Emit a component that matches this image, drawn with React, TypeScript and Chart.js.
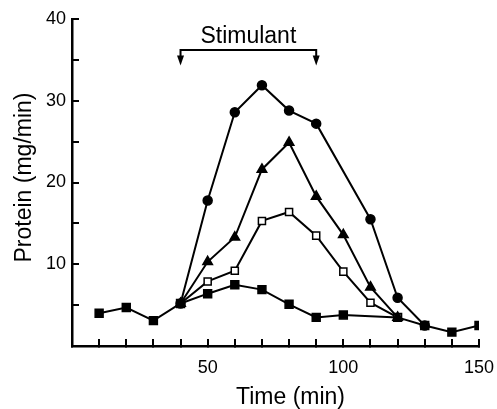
import React, { useEffect, useRef } from 'react';
import { Chart, registerables } from 'chart.js';

Chart.register(...registerables);

// ---- data ----
const controlTime = [10, 20, 30, 40, 50, 60, 70, 80, 90, 100, 120, 130, 140, 150];
const controlProtein = [4.0, 4.7, 3.1, 5.2, 6.4, 7.5, 6.9, 5.1, 3.5, 3.8, 3.5, 2.5, 1.7, 2.5];

const openSquareTime = [40, 50, 60, 70, 80, 90, 100, 110, 120];
const openSquareProtein = [5.2, 7.9, 9.2, 15.3, 16.4, 13.5, 9.1, 5.3, 3.5];

const triangleTime = [40, 50, 60, 70, 80, 90, 100, 110, 120];
const triangleProtein = [5.2, 10.3, 13.3, 21.6, 24.9, 18.3, 13.6, 7.2, 3.5];

const circleTime = [40, 50, 60, 70, 80, 90, 110, 120, 130];
const circleProtein = [5.2, 17.8, 28.6, 31.9, 28.8, 27.2, 15.5, 5.9, 2.5];

const xTickLabels = [50, 100, 150];
const yTickLabels = [10, 20, 30, 40];

const stimulusStart = 40;
const stimulusEnd = 90;
const stimulusLabel = 'Stimulant';
const bracketLevel = 36.2;
const arrowTipLevel = 34.3;

const xTitle = 'Time (min)';
const yTitle = 'Protein (mg/min)';

const FONT = '"Liberation Sans", Arial, Helvetica, sans-serif';

function pts(xs: number[], ys: number[]) {
  return xs.map((x, i) => ({ x, y: ys[i] }));
}

const annotationPlugin = {
  id: 'stimAnnot',
  afterDraw(chart: any) {
    const { ctx, chartArea } = chart;
    const xs = chart.scales.x;
    const ys = chart.scales.y;
    ctx.save();
    ctx.fillStyle = '#000';
    ctx.strokeStyle = '#000';

    // bracket
    const x1 = xs.getPixelForValue(stimulusStart);
    const x2 = xs.getPixelForValue(stimulusEnd);
    const yb = ys.getPixelForValue(bracketLevel);
    const yt = ys.getPixelForValue(arrowTipLevel);
    ctx.lineWidth = 2;
    ctx.beginPath();
    ctx.moveTo(x1, yt - 8);
    ctx.lineTo(x1, yb);
    ctx.lineTo(x2, yb);
    ctx.lineTo(x2, yt - 8);
    ctx.stroke();
    for (const ax of [x1, x2]) {
      ctx.beginPath();
      ctx.moveTo(ax - 3.5, yt - 10);
      ctx.lineTo(ax + 3.5, yt - 10);
      ctx.lineTo(ax, yt);
      ctx.closePath();
      ctx.fill();
    }

    // label
    ctx.font = `23px ${FONT}`;
    ctx.textAlign = 'center';
    ctx.textBaseline = 'alphabetic';
    ctx.fillText(stimulusLabel, (x1 + x2) / 2, yb - 7);

    // axis titles
    ctx.font = `23px ${FONT}`;
    ctx.fillText(xTitle, (chartArea.left + chartArea.right) / 2 + 15, 404);

    ctx.translate(31, (chartArea.top + chartArea.bottom) / 2 - 5);
    ctx.rotate(-Math.PI / 2);
    ctx.fillText(yTitle, 0, 0);
    ctx.restore();
  },
};

export default function App() {
  const ref = useRef<HTMLCanvasElement | null>(null);

  useEffect(() => {
    if (!ref.current) return;
    const common = {
      borderColor: '#000',
      borderWidth: 2,
      pointBorderColor: '#000',
      pointBorderWidth: 1.5,
      tension: 0,
      fill: false,
    };
    const chart = new Chart(ref.current, {
      type: 'line',
      data: {
        datasets: [
          {
            ...common,
            label: 'circles',
            data: pts(circleTime, circleProtein),
            pointStyle: 'circle',
            pointRadius: 4.5,
            pointBackgroundColor: '#000',
          },
          {
            ...common,
            label: 'triangles',
            data: pts(triangleTime, triangleProtein),
            pointStyle: 'triangle',
            pointRadius: 5.5,
            pointBackgroundColor: '#000',
          },
          {
            ...common,
            label: 'open squares',
            data: pts(openSquareTime, openSquareProtein),
            pointStyle: 'rect',
            pointRadius: 5,
            pointBackgroundColor: '#fff',
          },
          {
            ...common,
            label: 'control',
            data: pts(controlTime, controlProtein),
            pointStyle: 'rect',
            pointRadius: 5.6,
            pointBackgroundColor: '#000',
          },
        ],
      },
      options: {
        responsive: false,
        animation: false,
        events: [],
        layout: { padding: { top: 19, right: 18, bottom: 0, left: 0 } },
        plugins: {
          legend: { display: false },
          tooltip: { enabled: false },
          title: { display: false },
        },
        scales: {
          x: {
            type: 'linear',
            min: 0,
            max: 150,
            afterFit(scale: any) {
              scale.height = 63;
              scale.paddingLeft = 0;
              scale.paddingRight = 0;
            },
            border: { display: true, color: '#000', width: 2.5 },
            grid: {
              drawOnChartArea: false,
              drawTicks: true,
              tickLength: -7,
              color: '#000',
              lineWidth: 2,
            },
            ticks: {
              stepSize: 10,
              autoSkip: false,
              maxRotation: 0,
              padding: 18,
              color: '#000',
              font: { family: FONT, size: 18 },
              callback: (v: any) => (xTickLabels.includes(Number(v)) ? String(v) : ''),
            },
          },
          y: {
            type: 'linear',
            min: 0,
            max: 40,
            afterFit(scale: any) {
              scale.width = 72;
              scale.paddingTop = 0;
              scale.paddingBottom = 0;
            },
            border: { display: true, color: '#000', width: 2.5 },
            grid: {
              drawOnChartArea: false,
              drawTicks: true,
              tickLength: -7,
              color: '#000',
              lineWidth: 2,
            },
            ticks: {
              stepSize: 5,
              autoSkip: false,
              padding: 13,
              color: '#000',
              font: { family: FONT, size: 18 },
              callback: (v: any) => (yTickLabels.includes(Number(v)) ? String(v) : ''),
            },
          },
        },
      },
      plugins: [annotationPlugin],
    } as any);
    return () => chart.destroy();
  }, []);

  return (
    <div style={{ position: 'fixed', left: 0, top: 0, width: 497, height: 409, background: '#fff' }}>
      <canvas ref={ref} width={497} height={409} />
    </div>
  );
}
